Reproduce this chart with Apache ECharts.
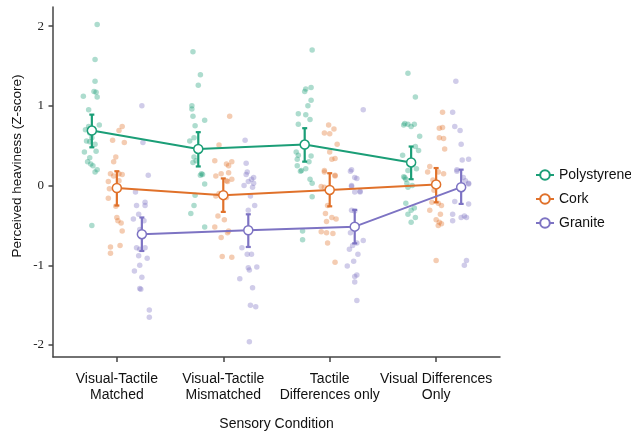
<!DOCTYPE html>
<html>
<head>
<meta charset="utf-8">
<script src="https://cdn.jsdelivr.net/npm/echarts@6/dist/echarts.min.js"></script>
<style>
html,body{margin:0;padding:0;background:#fff;}
#chart{width:631px;height:433px;}
</style>
</head>
<body>
<div id="chart"></div>
<script>
// ---- Data ----
const conditions = ['Visual-Tactile\nMatched', 'Visual-Tactile\nMismatched', 'Tactile\nDifferences only', 'Visual Differences\nOnly'];
const groups = ['Polystyrene', 'Cork', 'Granite'];
const groupOffsets = [-0.235, 0, 0.235];
const yTicks = [-2, -1, 0, 1, 2];

const polyMean = [0.69, 0.46, 0.515, 0.29];
const polyLow  = [0.48, 0.24, 0.30, 0.08];
const polyHigh = [0.89, 0.67, 0.72, 0.49];

const corkMean = [-0.03, -0.12, -0.055, 0.015];
const corkLow  = [-0.25, -0.33, -0.26, -0.21];
const corkHigh = [0.18, 0.09, 0.155, 0.22];

const graniteMean = [-0.61, -0.56, -0.515, -0.02];
const graniteLow  = [-0.82, -0.77, -0.725, -0.23];
const graniteHigh = [-0.40, -0.36, -0.305, 0.20];

// individual participants: [jitter, z-score] per condition
const polyPoints = [
  [[0.05,2.02],[0.03,1.58],[0.03,1.31],[0.02,1.18],[0.04,1.17],[-0.08,1.12],[0.05,1.11],[-0.03,0.95],[0.07,0.76],[-0.03,0.74],[-0.06,0.70],[-0.02,0.66],[0,0.60],[-0.05,0.56],[-0.02,0.55],[0.03,0.52],[0.04,0.43],[-0.07,0.42],[-0.02,0.35],[-0.04,0.30],[-0.01,0.27],[0.01,0.25],[0.05,0.20],[0.03,0.17],[0,-0.50]],
  [[-0.05,1.68],[0.02,1.39],[0,1.26],[-0.06,1.00],[-0.06,0.96],[-0.05,0.87],[0.06,0.82],[-0.03,0.75],[-0.04,0.60],[-0.08,0.56],[-0.04,0.36],[-0.02,0.31],[-0.05,0.29],[0.03,0.15],[0.04,0.14],[0.02,0.13],[0.06,0.02],[-0.03,-0.12],[-0.04,-0.25],[-0.07,-0.35],[0.06,-0.52]],
  [[0.07,1.70],[0.06,1.23],[0.01,1.21],[0,1.18],[0.06,1.07],[0.03,1.00],[-0.06,0.90],[0.01,0.89],[0.05,0.83],[-0.06,0.77],[-0.08,0.42],[-0.06,0.38],[0.06,0.37],[-0.07,0.33],[0.04,0.30],[-0.07,0.25],[0.01,0.21],[-0.03,0.19],[-0.04,0.18],[0.05,0.08],[0.07,0.03],[0.07,-0.14],[-0.02,-0.57],[-0.02,-0.68]],
  [[-0.03,1.41],[0.04,1.11],[-0.06,0.78],[-0.03,0.77],[0.03,0.77],[-0.07,0.76],[0,0.74],[0.08,0.62],[0.04,0.49],[0.07,0.44],[-0.08,0.38],[0.05,0.21],[-0.03,0.19],[-0.07,0.11],[-0.06,0.10],[-0.05,0.08],[-0.04,0.03],[0.01,0.00],[-0.03,-0.02],[-0.05,-0.22],[0.03,-0.28],[0,-0.31],[-0.03,-0.36],[0.04,-0.40],[0,-0.46]]
];
const corkPoints = [
  [[0.05,0.74],[0.02,0.69],[-0.04,0.57],[0.07,0.54],[-0.01,0.36],[-0.03,0.30],[-0.06,0.15],[0.02,0.15],[0.05,0.14],[-0.03,0.12],[0.02,0.06],[-0.08,0.05],[-0.07,-0.04],[0.02,-0.05],[-0.08,-0.16],[-0.01,-0.26],[0,-0.40],[0.01,-0.44],[0.04,-0.47],[0.05,-0.57],[0.03,-0.75],[-0.06,-0.77],[-0.06,-0.85]],
  [[0.06,0.87],[-0.04,0.51],[-0.08,0.31],[0.08,0.30],[0.03,0.27],[0.05,0.25],[0.05,0.16],[-0.02,0.15],[-0.07,0.12],[0.08,0.08],[0.03,0.06],[0.04,0.05],[-0.04,-0.10],[-0.07,-0.13],[0.03,-0.15],[-0.05,-0.38],[0.01,-0.43],[-0.08,-0.52],[0.05,-0.57],[0.04,-0.59],[-0.02,-0.65],[-0.01,-0.89],[0.08,-0.90]],
  [[-0.01,0.76],[0.04,0.71],[-0.05,0.66],[0,0.65],[0.07,0.52],[0,0.42],[0.05,0.34],[0.02,0.33],[-0.05,0.19],[-0.05,0.17],[0.05,0.13],[0.05,0.12],[-0.08,-0.01],[-0.05,-0.02],[-0.02,-0.25],[-0.04,-0.35],[0.02,-0.40],[0.06,-0.42],[-0.03,-0.45],[-0.08,-0.58],[-0.03,-0.59],[0.03,-0.60],[-0.02,-0.72],[0.05,-0.96]],
  [[0.06,0.92],[0.06,0.73],[0.03,0.72],[0.03,0.60],[0.07,0.59],[0.08,0.46],[-0.06,0.24],[-0.08,0.17],[0.02,0.17],[0.07,0.15],[-0.03,0.07],[-0.02,-0.06],[-0.04,-0.21],[0.02,-0.22],[0.05,-0.25],[-0.06,-0.31],[0.04,-0.36],[0,-0.43],[0.03,-0.46],[0.05,-0.48],[0.02,-0.50],[0,-0.94]]
];
const granitePoints = [
  [[0,1.00],[0.01,0.54],[0.06,0.13],[-0.06,-0.08],[0.03,-0.21],[-0.05,-0.25],[0.03,-0.25],[-0.03,-0.36],[-0.08,-0.42],[0.02,-0.44],[-0.02,-0.55],[-0.05,-0.78],[0.03,-0.78],[-0.02,-0.80],[-0.03,-0.88],[0.05,-0.91],[-0.02,-1.00],[-0.07,-1.07],[0,-1.15],[-0.02,-1.29],[-0.01,-1.30],[0.07,-1.56],[0.07,-1.65]],
  [[-0.03,0.57],[-0.02,0.28],[-0.01,0.17],[-0.02,0.14],[0.05,0.10],[0.03,0.08],[0,0.05],[0.05,0.03],[-0.04,0.00],[0.04,-0.02],[0.02,-0.13],[0.06,-0.25],[0,-0.31],[-0.06,-0.78],[-0.01,-0.86],[0.03,-0.86],[0.08,-1.02],[0,-1.03],[0.01,-1.06],[-0.08,-1.17],[0.04,-1.28],[0.02,-1.50],[0.07,-1.52],[0.01,-1.96]],
  [[0.08,0.95],[-0.03,0.20],[-0.04,0.18],[0,0.10],[0.02,0.09],[-0.03,0.00],[-0.03,-0.01],[0.05,-0.07],[0,-0.08],[0.05,-0.08],[-0.03,-0.31],[0,-0.32],[-0.04,-0.59],[0.08,-0.69],[0.02,-0.72],[-0.02,-0.75],[-0.05,-0.80],[0.03,-0.86],[-0.01,-0.95],[-0.07,-1.01],[0.02,-1.12],[0,-1.14],[0,-1.21],[0.02,-1.44]],
  [[-0.05,1.31],[-0.08,0.92],[-0.06,0.74],[-0.01,0.69],[0,0.52],[0.07,0.33],[0.01,0.32],[-0.04,0.20],[-0.04,0.18],[0.02,0.10],[0.04,0.06],[0.07,0.03],[0.07,0.02],[-0.06,-0.20],[0.07,-0.23],[-0.08,-0.36],[0.03,-0.38],[0.05,-0.40],[0,-0.40],[-0.08,-0.44],[0.05,-0.94],[0.03,-1.00]]
];

// ---- Build ----
const colors = ['#1b9e77', '#e0712a', '#7d73c3'];
const means = [polyMean, corkMean, graniteMean];
const lows = [polyLow, corkLow, graniteLow];
const highs = [polyHigh, corkHigh, graniteHigh];
const points = [polyPoints, corkPoints, granitePoints];

const series = [];
groups.forEach((g, gi) => {
  const pts = [];
  points[gi].forEach((cond, ci) => {
    cond.forEach(p => pts.push([ci + 1 + groupOffsets[gi] + p[0], p[1]]));
  });
  series.push({
    name: g + ' participants', type: 'scatter', data: pts, symbolSize: 5.5, z: 1,
    itemStyle: { color: colors[gi], opacity: 0.36 }, silent: true
  });
});
groups.forEach((g, gi) => {
  series.push({
    name: g + ' error', type: 'custom', z: 3, silent: true,
    data: means[gi].map((m, ci) => [ci + 1 + groupOffsets[gi], lows[gi][ci], highs[gi][ci]]),
    renderItem: (params, api) => {
      const x = api.value(0);
      const top = api.coord([x, api.value(2)]);
      const bot = api.coord([x, api.value(1)]);
      const w = 2.5;
      const st = { stroke: colors[gi], lineWidth: 2.2 };
      return { type: 'group', children: [
        { type: 'line', shape: { x1: top[0], y1: top[1], x2: bot[0], y2: bot[1] }, style: st },
        { type: 'line', shape: { x1: top[0] - w, y1: top[1], x2: top[0] + w, y2: top[1] }, style: st },
        { type: 'line', shape: { x1: bot[0] - w, y1: bot[1], x2: bot[0] + w, y2: bot[1] }, style: st }
      ]};
    }
  });
});
groups.forEach((g, gi) => {
  series.push({
    name: g, type: 'line', z: 5,
    data: means[gi].map((m, ci) => [ci + 1 + groupOffsets[gi], m]),
    symbol: 'circle', symbolSize: 9,
    lineStyle: { color: colors[gi], width: 2 },
    itemStyle: { color: '#ffffff', borderColor: colors[gi], borderWidth: 1.5 },
    emphasis: { disabled: true }
  });
});

const chart = echarts.init(document.getElementById('chart'), null, { renderer: 'canvas' });
chart.setOption({
  animation: false,
  backgroundColor: '#ffffff',
  grid: { left: 53, right: 131, top: 7, bottom: 76, containLabel: false, outerBoundsMode: 'none' },
  legend: {
    data: groups, orient: 'vertical', left: 530, top: 163, padding: 5,
    itemWidth: 18, itemHeight: 12, itemGap: 10,
    textStyle: { fontFamily: 'Liberation Sans', fontSize: 14, color: '#111' }
  },
  xAxis: {
    type: 'value', min: 0.4, max: 4.6,
    name: 'Sensory Condition', nameLocation: 'middle', nameGap: 60,
    nameTextStyle: { fontFamily: 'Liberation Sans', fontSize: 14, color: '#111' },
    splitLine: { show: false },
    axisLine: { show: true, onZero: false, lineStyle: { color: '#444', width: 1.5 } },
    axisTick: { show: true, length: 5, customValues: [1, 2, 3, 4], lineStyle: { color: '#444', width: 1.5 } },
    axisLabel: {
      customValues: [1, 2, 3, 4], margin: 14,
      formatter: v => conditions[Math.round(v) - 1] || '',
      fontFamily: 'Liberation Sans', fontSize: 14, lineHeight: 16, color: '#111'
    }
  },
  yAxis: {
    type: 'value', min: -2.15, max: 2.24,
    splitLine: { show: false },
    axisLine: { show: true, onZero: false, lineStyle: { color: '#444', width: 1.5 } },
    axisTick: { show: true, length: 4.5, customValues: yTicks, lineStyle: { color: '#444', width: 1.5 } },
    axisLabel: {
      customValues: yTicks, margin: 9,
      fontFamily: 'Liberation Serif', fontSize: 13, color: '#222'
    }
  },
  graphic: [{
    type: 'text', x: 17, y: 166, rotation: Math.PI / 2,
    style: { text: 'Perceived heaviness (Z-score)', fontFamily: 'Liberation Sans', fontSize: 13.5, fill: '#111', textAlign: 'center', textVerticalAlign: 'middle' }
  }],
  series: series
});
</script>
</body>
</html>
